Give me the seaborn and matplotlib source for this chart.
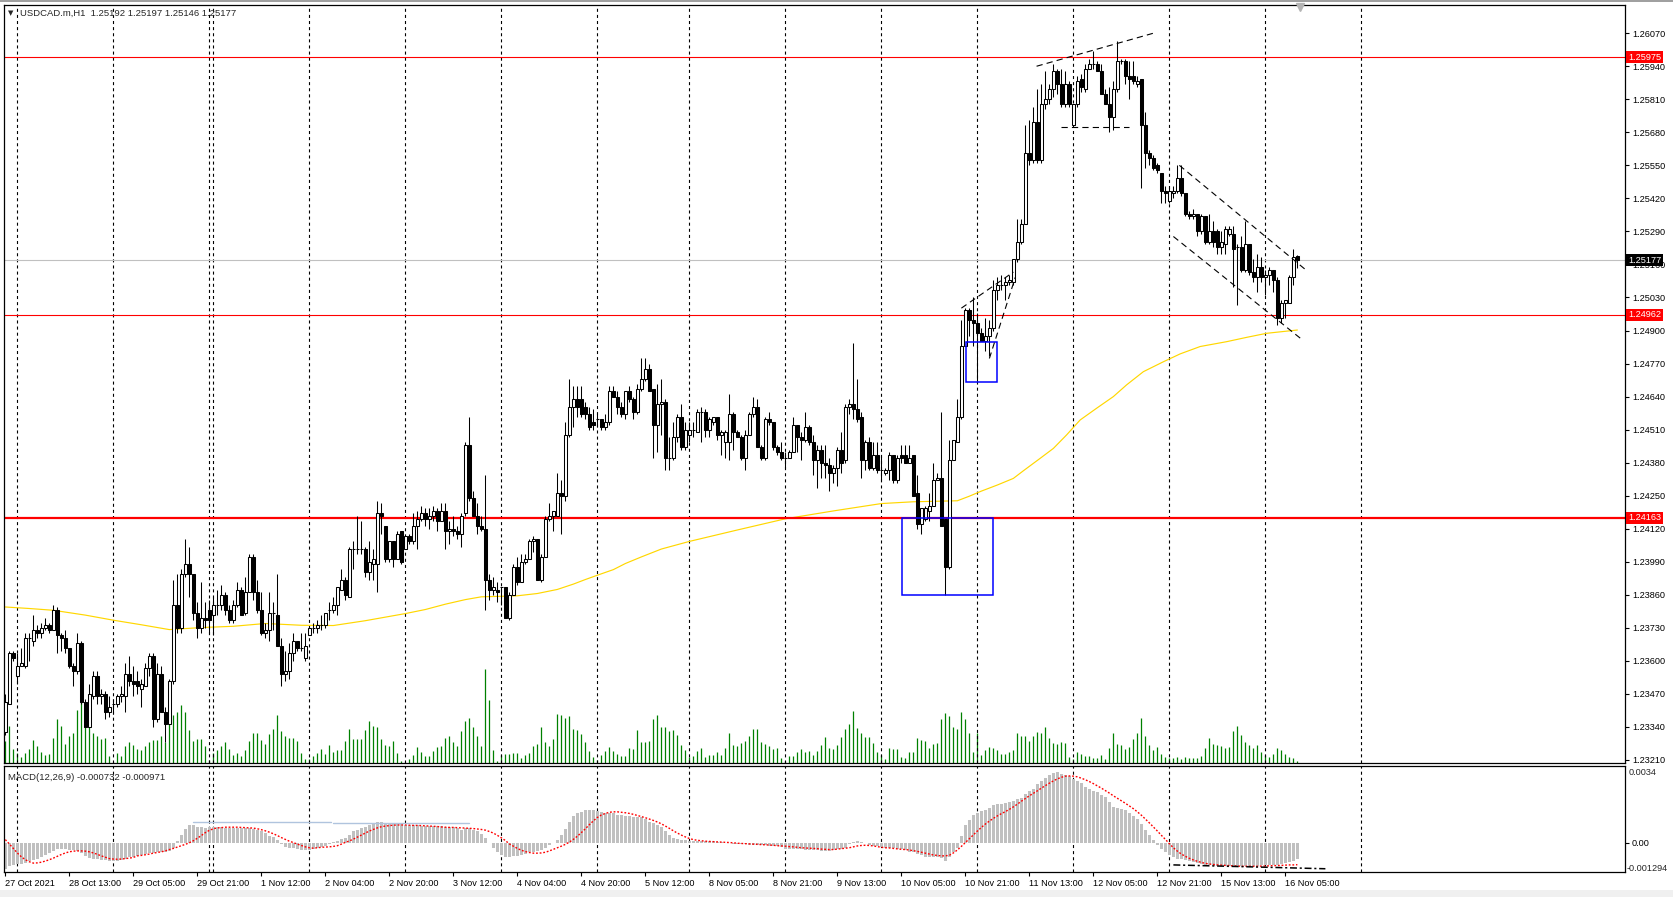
import numpy as np
import matplotlib
matplotlib.use("Agg")
import matplotlib.pyplot as plt
import matplotlib.transforms as mtransforms
from matplotlib.patches import Rectangle
import seaborn as sns

# ---------------- data ----------------
open_ = [
1.2332,1.2343,1.2363,1.2354,1.2358,1.2358,1.2369,1.2368,1.2372,1.2371,
1.2373,1.2374,1.2372,1.2380,1.2370,1.2369,1.2365,1.2358,1.2356,1.2367,
1.2344,1.2334,1.2346,1.2354,1.2346,1.2347,1.2340,1.2343,1.2343,1.2346,
1.2346,1.2355,1.2352,1.2352,1.2349,1.2350,1.2357,1.2362,1.2337,1.2355,
1.2340,1.2335,1.2352,1.2382,1.2373,1.2394,1.2398,1.2394,1.2379,1.2373,
1.2377,1.2380,1.2378,1.2382,1.2382,1.2386,1.2380,1.2376,1.2382,1.2388,
1.2379,1.2387,1.2401,1.2387,1.2380,1.2371,1.2372,1.2379,1.2378,1.2366,
1.2355,1.2356,1.2363,1.2368,1.2365,1.2361,1.2370,1.2373,1.2373,1.2374,
1.2374,1.2380,1.2380,1.2382,1.2388,1.2392,1.2385,1.2404,1.2404,1.2404,
1.2404,1.2395,1.2398,1.2398,1.2418,1.2413,1.2400,1.2407,1.2400,1.2411,
1.2404,1.2409,1.2407,1.2413,1.2416,1.2418,1.2416,1.2417,1.2419,1.2415,
1.2419,1.2411,1.2412,1.2411,1.2410,1.2418,1.2445,1.2424,1.2417,1.2413,
1.2412,1.2392,1.2388,1.2388,1.2389,1.2389,1.2377,1.2386,1.2397,1.2391,
1.2399,1.2400,1.2407,1.2408,1.2392,1.2401,1.2416,1.2417,1.2417,1.2426,
1.2425,1.2449,1.2460,1.2463,1.2463,1.2460,1.2457,1.2454,1.2455,1.2455,
1.2452,1.2454,1.2466,1.2464,1.2460,1.2457,1.2466,1.2463,1.2458,1.2467,
1.2471,1.2475,1.2467,1.2453,1.2461,1.2462,1.2440,1.2440,1.2448,1.2456,
1.2444,1.2449,1.2451,1.2450,1.2458,1.2458,1.2451,1.2454,1.2456,1.2449,
1.2446,1.2446,1.2457,1.2450,1.2448,1.2440,1.2449,1.2457,1.2460,1.2444,
1.2440,1.2455,1.2454,1.2444,1.2442,1.2440,1.2440,1.2442,1.2453,1.2448,
1.2447,1.2452,1.2446,1.2439,1.2443,1.2438,1.2437,1.2434,1.2436,1.2443,
1.2439,1.2460,1.2461,1.2459,1.2456,1.2439,1.2446,1.2436,1.2441,1.2435,
1.2434,1.2435,1.2441,1.2431,1.2441,1.2441,1.2438,1.2441,1.2426,1.2414,
1.2416,1.2419,1.2421,1.2431,1.2432,1.2416,1.2397,1.2439,1.2446,1.2456,
1.2484,1.2498,1.2494,1.2493,1.2489,1.2486,1.2488,1.2491,1.2506,1.2508,
1.2508,1.2509,1.2509,1.2518,1.2525,1.2532,1.2560,1.2557,1.2572,1.2557,
1.2579,1.2581,1.2585,1.2592,1.2587,1.2579,1.2587,1.2571,1.2579,1.2589,
1.2585,1.2593,1.2595,1.2595,1.2592,1.2583,1.2579,1.2574,1.2585,1.2596,
1.2596,1.2590,1.2590,1.2587,1.2589,1.2571,1.2560,1.2558,1.2555,1.2552,
1.2545,1.2541,1.2544,1.2545,1.2550,1.2544,1.2536,1.2535,1.2536,1.2529,
1.2535,1.2525,1.2529,1.2529,1.2523,1.2524,1.2528,1.2528,1.2523,1.2523,
1.2514,1.2524,1.2513,1.2511,1.2515,1.2511,1.2512,1.2514,1.2510,1.2495,
1.2501,1.2501,1.2511,1.25192]

high = [
1.2347,1.2364,1.2364,1.2363,1.2365,1.2371,1.2371,1.2378,1.2374,1.2375,
1.2377,1.2375,1.2382,1.2381,1.2371,1.2372,1.2365,1.2359,1.2371,1.2368,
1.2345,1.2351,1.2356,1.2356,1.2349,1.2348,1.2346,1.2345,1.2347,1.2350,
1.2359,1.2362,1.2358,1.2356,1.2353,1.2359,1.2363,1.2363,1.2359,1.2358,
1.2342,1.2353,1.2392,1.2394,1.2396,1.2408,1.2405,1.2394,1.2383,1.2391,
1.2383,1.2384,1.2385,1.2388,1.2390,1.2387,1.2382,1.2384,1.2391,1.2389,
1.2393,1.2402,1.2402,1.2392,1.2387,1.2375,1.2387,1.2383,1.2394,1.2369,
1.2364,1.2367,1.2371,1.2368,1.2371,1.2371,1.2373,1.2375,1.2376,1.2378,
1.2379,1.2383,1.2385,1.2389,1.2396,1.2393,1.2405,1.2407,1.2417,1.2415,
1.2405,1.2407,1.2404,1.2423,1.2422,1.2413,1.2407,1.2407,1.2411,1.2411,
1.2409,1.2410,1.2418,1.2419,1.2421,1.2420,1.2420,1.2421,1.2420,1.2422,
1.2422,1.2415,1.2417,1.2413,1.2418,1.2446,1.2456,1.2427,1.2422,1.2417,
1.2433,1.2394,1.2393,1.2391,1.2389,1.2389,1.2387,1.2398,1.2401,1.2402,
1.2402,1.2408,1.2409,1.2408,1.2402,1.2417,1.2422,1.2419,1.2434,1.2431,
1.2454,1.2471,1.2468,1.2468,1.2468,1.2462,1.2460,1.2459,1.2457,1.2455,
1.2457,1.2468,1.2468,1.2466,1.2462,1.2466,1.2468,1.2464,1.2469,1.2479,
1.2479,1.2477,1.2467,1.2469,1.2471,1.2463,1.2448,1.2454,1.2457,1.2461,
1.2454,1.2454,1.2454,1.2459,1.2460,1.2459,1.2456,1.2456,1.2456,1.2451,
1.2451,1.2465,1.2458,1.2451,1.2449,1.2451,1.2458,1.2464,1.2463,1.2445,
1.2456,1.2458,1.2454,1.2445,1.2446,1.2442,1.2443,1.2456,1.2453,1.2450,
1.2458,1.2453,1.2449,1.2445,1.2445,1.2445,1.2440,1.2437,1.2444,1.2450,
1.2461,1.2463,1.2485,1.2471,1.2458,1.2447,1.2448,1.2446,1.2446,1.2441,
1.2436,1.2442,1.2441,1.2441,1.2445,1.2445,1.2445,1.2441,1.2433,1.2420,
1.2421,1.2426,1.2438,1.2434,1.2458,1.2416,1.2447,1.2447,1.2463,1.2494,
1.2499,1.2499,1.2503,1.2497,1.2491,1.2495,1.2494,1.2510,1.2511,1.2512,
1.2511,1.2512,1.2518,1.2534,1.2534,1.2571,1.2573,1.2578,1.2585,1.2587,
1.2592,1.2587,1.2595,1.2593,1.2593,1.2592,1.2588,1.2579,1.2590,1.2591,
1.2595,1.2597,1.2600,1.2596,1.2595,1.2585,1.2586,1.2588,1.2604,1.2597,
1.2597,1.2596,1.2596,1.2590,1.2589,1.2576,1.2561,1.2559,1.2556,1.2552,
1.2547,1.2546,1.2547,1.2555,1.2555,1.2544,1.2537,1.2538,1.2536,1.2536,
1.2535,1.2536,1.2533,1.2530,1.2529,1.2531,1.2531,1.2531,1.2524,1.2527,
1.2533,1.2524,1.2518,1.2520,1.2519,1.2514,1.2515,1.2514,1.2511,1.2502,
1.2502,1.2512,1.2522,1.25197]

low = [
1.2331,1.2343,1.2360,1.2351,1.2358,1.2357,1.2360,1.2366,1.2369,1.2369,
1.2372,1.2371,1.2372,1.2363,1.2364,1.2363,1.2357,1.2350,1.2355,1.2343,
1.2334,1.2334,1.2345,1.2343,1.2343,1.2337,1.2338,1.2339,1.2342,1.2344,
1.2340,1.2350,1.2346,1.2347,1.2342,1.2350,1.2354,1.2334,1.2336,1.2340,
1.2328,1.2335,1.2351,1.2371,1.2371,1.2393,1.2385,1.2376,1.2369,1.2371,
1.2373,1.2371,1.2370,1.2378,1.2380,1.2378,1.2375,1.2375,1.2381,1.2378,
1.2378,1.2387,1.2384,1.2379,1.2370,1.2369,1.2368,1.2372,1.2366,1.2350,
1.2352,1.2353,1.2360,1.2364,1.2364,1.2360,1.2370,1.2371,1.2371,1.2372,
1.2373,1.2376,1.2379,1.2378,1.2388,1.2384,1.2385,1.2396,1.2402,1.2402,
1.2393,1.2392,1.2392,1.2387,1.2410,1.2399,1.2399,1.2397,1.2400,1.2398,
1.2404,1.2406,1.2406,1.2404,1.2415,1.2413,1.2412,1.2415,1.2411,1.2415,
1.2404,1.2406,1.2409,1.2408,1.2405,1.2417,1.2423,1.2417,1.2410,1.2411,
1.2380,1.2384,1.2386,1.2383,1.2382,1.2377,1.2376,1.2386,1.2390,1.2391,
1.2398,1.2400,1.2403,1.2392,1.2391,1.2401,1.2415,1.2411,1.2417,1.2410,
1.2423,1.2448,1.2452,1.2456,1.2456,1.2455,1.2451,1.2451,1.2452,1.2451,
1.2451,1.2453,1.2464,1.2457,1.2456,1.2455,1.2462,1.2455,1.2457,1.2466,
1.2470,1.2466,1.2440,1.2442,1.2449,1.2435,1.2435,1.2439,1.2446,1.2443,
1.2443,1.2446,1.2448,1.2450,1.2446,1.2448,1.2448,1.2453,1.2447,1.2441,
1.2440,1.2439,1.2443,1.2448,1.2439,1.2435,1.2449,1.2456,1.2444,1.2439,
1.2439,1.2453,1.2443,1.2441,1.2439,1.2436,1.2440,1.2442,1.2442,1.2439,
1.2446,1.2445,1.2433,1.2428,1.2432,1.2432,1.2427,1.2430,1.2429,1.2434,
1.2438,1.2457,1.2455,1.2454,1.2432,1.2435,1.2435,1.2435,1.2434,1.2431,
1.2433,1.2431,1.2430,1.2430,1.2438,1.2438,1.2438,1.2425,1.2412,1.2410,
1.2415,1.2415,1.2421,1.2431,1.2413,1.2386,1.2396,1.2439,1.2446,1.2455,
1.2484,1.2488,1.2484,1.2470,1.2486,1.2482,1.2480,1.2490,1.2502,1.2506,
1.2502,1.2508,1.2508,1.2517,1.2524,1.2532,1.2555,1.2556,1.2556,1.2556,
1.2577,1.2579,1.2582,1.2583,1.2578,1.2578,1.2578,1.2570,1.2578,1.2584,
1.2584,1.2593,1.2593,1.2592,1.2583,1.2579,1.2568,1.2569,1.2584,1.2595,
1.2587,1.2581,1.2587,1.2586,1.2546,1.2554,1.2555,1.2553,1.2552,1.2540,
1.2540,1.2540,1.2542,1.2544,1.2543,1.2535,1.2534,1.2534,1.2527,1.2528,
1.2524,1.2524,1.2523,1.2520,1.2520,1.2520,1.2527,1.2507,1.2500,1.2513,
1.2513,1.2512,1.2509,1.2505,1.2509,1.2504,1.2508,1.2505,1.2492,1.2493,
1.2495,1.2501,1.2508,1.25146]

close = [
1.2344,1.2363,1.2361,1.2358,1.2359,1.2369,1.2369,1.2372,1.2371,1.2373,
1.2374,1.2372,1.2380,1.2370,1.2369,1.2365,1.2358,1.2356,1.2367,1.2344,
1.2334,1.2347,1.2354,1.2346,1.2347,1.2340,1.2342,1.2343,1.2346,1.2347,
1.2355,1.2352,1.2351,1.2350,1.2351,1.2357,1.2362,1.2337,1.2355,1.2340,
1.2335,1.2352,1.2382,1.2373,1.2394,1.2398,1.2394,1.2379,1.2373,1.2377,
1.2376,1.2376,1.2382,1.2382,1.2386,1.2380,1.2376,1.2382,1.2388,1.2378,
1.2387,1.2401,1.2387,1.2380,1.2371,1.2372,1.2379,1.2379,1.2366,1.2355,
1.2356,1.2363,1.2368,1.2365,1.2365,1.2366,1.2373,1.2373,1.2374,1.2374,
1.2379,1.2380,1.2382,1.2389,1.2392,1.2386,1.2404,1.2404,1.2404,1.2404,
1.2395,1.2399,1.2400,1.2418,1.2417,1.2400,1.2407,1.2400,1.2410,1.2399,
1.2409,1.2407,1.2413,1.2416,1.2418,1.2416,1.2417,1.2419,1.2415,1.2419,
1.2411,1.2412,1.2411,1.2410,1.2417,1.2445,1.2424,1.2417,1.2413,1.2412,
1.2392,1.2388,1.2389,1.2387,1.2389,1.2377,1.2386,1.2397,1.2391,1.2399,
1.2400,1.2407,1.2408,1.2392,1.2401,1.2416,1.2417,1.2419,1.2426,1.2425,
1.2449,1.2460,1.2463,1.2460,1.2457,1.2457,1.2452,1.2453,1.2455,1.2452,
1.2454,1.2466,1.2464,1.2460,1.2457,1.2466,1.2463,1.2458,1.2467,1.2471,
1.2475,1.2466,1.2453,1.2461,1.2462,1.2440,1.2440,1.2448,1.2456,1.2444,
1.2451,1.2451,1.2451,1.2458,1.2458,1.2451,1.2455,1.2456,1.2449,1.2450,
1.2450,1.2457,1.2450,1.2448,1.2440,1.2449,1.2457,1.2460,1.2444,1.2440,
1.2455,1.2454,1.2444,1.2442,1.2440,1.2440,1.2442,1.2453,1.2448,1.2447,
1.2452,1.2446,1.2439,1.2443,1.2438,1.2437,1.2434,1.2436,1.2443,1.2438,
1.2460,1.2461,1.2459,1.2455,1.2439,1.2446,1.2436,1.2441,1.2435,1.2435,
1.2435,1.2441,1.2431,1.2440,1.2440,1.2438,1.2440,1.2425,1.2414,1.2420,
1.2420,1.2421,1.2431,1.2432,1.2413,1.2397,1.2439,1.2447,1.2456,1.2484,
1.2498,1.2494,1.2493,1.2489,1.2486,1.2488,1.2491,1.2506,1.2508,1.2508,
1.2509,1.2510,1.2518,1.2525,1.2532,1.2560,1.2557,1.2572,1.2557,1.2579,
1.2581,1.2585,1.2592,1.2587,1.2579,1.2587,1.2579,1.2579,1.2588,1.2586,
1.2593,1.2595,1.2595,1.2592,1.2583,1.2579,1.2574,1.2585,1.2596,1.2596,
1.2590,1.2589,1.2588,1.2588,1.2571,1.2560,1.2558,1.2554,1.2553,1.2545,
1.2544,1.2545,1.2545,1.2550,1.2544,1.2536,1.2535,1.2536,1.2529,1.2535,
1.2525,1.2529,1.2525,1.2523,1.2525,1.2530,1.2530,1.2522,1.2523,1.2514,
1.2524,1.2513,1.2511,1.2515,1.2511,1.2512,1.2514,1.2510,1.2495,1.2501,
1.2502,1.2511,1.2519,1.25177]

volume = [
22,37,14,10,6,10,14,23,17,11,
8,9,25,44,37,19,27,30,53,61,
52,43,30,27,24,25,7,1,10,7,
17,21,18,14,13,17,21,23,23,27,
21,40,48,51,58,51,33,22,24,24,
17,3,10,13,17,21,14,8,10,7,
13,22,30,30,23,19,29,34,48,32,
27,25,25,22,10,4,4,7,10,14,
9,18,11,13,13,22,34,24,24,24,
33,42,37,36,24,18,17,22,10,2,
1,4,8,16,11,7,7,12,16,17,
25,27,21,17,32,42,45,36,27,17,
94,63,13,2,8,9,9,10,10,5,
8,10,17,19,36,21,17,24,49,48,
45,47,34,33,29,21,12,6,3,8,
12,16,12,9,7,7,15,14,33,21,
21,22,44,48,36,36,32,33,28,18,
13,6,7,12,15,6,8,8,11,8,
15,30,18,17,20,22,27,34,34,21,
19,17,14,15,5,2,7,7,11,14,
11,12,8,12,18,26,15,14,18,26,
34,39,52,35,30,26,26,20,11,8,
4,15,14,14,6,5,11,11,25,23,
22,15,19,20,44,50,47,36,34,51,
44,30,11,30,8,13,16,15,13,9,
9,11,13,30,27,27,22,27,31,30,
36,25,20,19,21,20,6,4,11,9,
7,7,5,5,8,4,15,30,19,18,
14,16,24,30,45,27,18,13,16,9,
6,5,5,6,4,6,5,5,5,7,
15,25,19,18,17,15,16,32,37,28,
21,18,15,18,11,8,6,9,15,13,
9,6,5,2]

# MACD main (histogram) and signal, in units of 0.0001
macd_hist_e4 = [
-11.6,-10.1,-9.8,-9.5,-9.2,-8.8,-8.2,-7.6,-7.2,-6.5,
-5.6,-4.6,-3.6,-2.9,-2.7,-2.7,-3.0,-3.4,-3.6,-4.6,
-5.8,-6.9,-7.1,-7.3,-7.5,-7.8,-8.0,-8.2,-7.9,-7.5,
-7.0,-6.5,-6.2,-5.8,-5.5,-5.0,-4.6,-4.6,-4.3,-4.2,
-4.3,-3.6,-2.2,0.7,3.6,6.2,7.9,7.9,7.2,6.9,
6.6,6.8,6.8,6.8,6.8,6.6,6.5,6.5,6.6,6.5,
6.4,6.5,6.3,5.6,5.0,4.2,3.2,2.4,1.4,-0.6,
-1.7,-2.2,-2.5,-2.9,-3.0,-3.2,-3.0,-2.6,-2.2,-1.7,
-1.3,-0.7,0.2,1.0,1.6,2.2,3.6,5.0,5.8,6.5,
7.0,7.9,8.5,9.1,9.0,8.8,8.7,8.5,8.4,8.1,
7.9,7.8,7.8,7.7,7.5,7.5,7.5,7.5,7.5,7.3,
7.2,7.0,6.9,6.5,5.8,6.5,6.5,5.6,5.0,3.8,
2.2,0.0,-2.2,-4.3,-5.5,-6.1,-6.1,-5.8,-5.8,-5.5,
-5.0,-4.3,-3.9,-3.6,-3.2,-2.2,-1.2,0.0,1.2,3.6,
6.2,9.4,11.8,13.0,13.7,14.4,14.4,14.4,14.0,13.5,
13.3,13.3,13.0,12.5,12.3,12.0,11.8,11.5,11.3,11.3,
10.5,9.4,8.7,7.9,7.0,5.0,3.5,2.2,1.8,1.4,
1.2,1.0,1.0,0.9,0.8,0.7,0.6,0.6,0.4,0.4,
0.1,-0.3,-0.7,-0.7,-0.7,-0.7,-0.8,-0.8,-1.0,-1.2,
-1.2,-1.3,-1.4,-1.5,-2.0,-2.6,-2.6,-2.8,-2.9,-2.9,
-3.0,-3.1,-3.2,-3.4,-3.6,-3.6,-3.5,-3.2,-2.9,-2.9,
-2.2,-0.7,0.5,0.7,0.3,-0.3,-1.1,-1.4,-1.6,-2.0,
-2.2,-2.3,-2.5,-2.8,-2.9,-3.2,-3.9,-4.3,-4.9,-5.6,
-6.1,-6.3,-6.4,-6.5,-6.8,-7.9,-6.5,-4.3,-2.2,2.9,
8.0,10.1,12.5,13.4,14.0,14.4,15.2,16.6,17.0,17.3,
17.6,17.9,18.5,19.2,19.9,21.5,22.8,24.0,26.0,27.5,
28.9,30.0,30.8,31.2,30.5,30.0,29.5,28.3,27.4,26.5,
24.8,24.0,23.1,22.5,21.2,20.2,18.0,15.8,15.5,15.1,
14.7,13.3,12.0,10.5,8.2,5.8,3.5,1.4,-0.8,-2.9,
-4.0,-5.4,-6.2,-7.0,-7.3,-7.8,-8.2,-8.7,-9.0,-9.4,
-9.7,-9.9,-10.1,-10.3,-10.4,-10.4,-10.4,-10.4,-10.4,-10.4,
-10.3,-10.1,-10.1,-10.1,-10.0,-9.9,-9.8,-9.8,-9.9,-9.6,
-9.0,-8.5,-7.9,-7.32]

macd_signal_e4 = [
1.4,-0.5,-2.5,-4.5,-6.2,-7.5,-8.4,-9.0,-8.9,-8.6,
-8.1,-7.5,-6.8,-6.0,-5.2,-4.5,-4.0,-3.7,-3.6,-3.6,
-3.7,-4.0,-4.5,-5.1,-5.8,-6.4,-7.0,-7.2,-7.3,-7.2,
-7.0,-6.8,-6.5,-5.8,-5.6,-5.3,-5.0,-4.6,-4.3,-4.0,
-3.6,-3.0,-2.5,-1.9,-1.3,-0.7,0.0,0.9,2.0,3.2,
4.5,5.5,6.2,6.6,6.7,6.9,6.9,6.9,6.9,6.8,
6.7,6.6,6.5,6.2,5.8,5.3,4.7,4.0,3.2,2.3,
1.5,0.7,0.1,-0.6,-1.2,-1.8,-2.2,-2.4,-2.2,-2.0,
-1.9,-1.8,-1.6,-1.3,-0.6,0.2,0.8,1.6,2.5,3.4,
4.3,5.2,5.9,6.6,7.1,7.4,7.6,7.8,7.9,7.9,
7.9,7.8,7.7,7.7,7.6,7.5,7.4,7.3,7.2,7.0,
6.9,6.8,6.8,6.7,6.6,6.5,6.4,6.3,6.1,5.9,
5.6,5.0,4.3,3.3,2.2,1.0,-0.5,-1.5,-2.5,-3.3,
-3.9,-4.3,-4.6,-4.6,-4.5,-4.2,-3.6,-2.9,-2.2,-1.5,
-0.7,0.3,1.5,2.9,4.5,6.2,8.0,9.7,11.2,12.3,
13.0,13.5,13.7,13.7,13.5,13.3,13.0,12.6,12.1,11.6,
11.1,10.5,9.9,9.2,8.4,7.4,6.4,5.3,4.3,3.4,
2.6,1.9,1.4,1.1,0.9,0.7,0.6,0.5,0.4,0.3,
0.2,0.1,0.0,-0.2,-0.3,-0.4,-0.5,-0.6,-0.7,-0.8,
-0.9,-1.0,-1.1,-1.3,-1.4,-1.5,-1.7,-1.8,-2.0,-2.2,
-2.3,-2.4,-2.5,-2.6,-2.8,-2.9,-3.0,-3.0,-2.8,-2.6,
-2.4,-2.2,-1.8,-1.4,-1.2,-1.1,-1.2,-1.4,-1.7,-2.0,
-2.2,-2.3,-2.5,-2.7,-2.9,-3.0,-3.2,-3.5,-3.8,-4.2,
-4.6,-5.0,-5.4,-5.6,-5.8,-5.8,-5.5,-4.5,-3.2,-1.6,
0.1,1.8,3.5,5.2,6.8,8.3,9.6,10.8,11.9,12.9,
13.8,14.8,15.9,17.1,18.4,19.6,20.8,21.9,23.0,24.2,
25.3,26.4,27.4,28.3,29.0,29.5,29.6,29.5,29.2,28.6,
27.9,27.1,26.2,25.2,24.2,23.1,22.0,20.8,19.7,18.6,
17.5,16.3,15.1,13.7,12.2,10.5,8.8,7.0,5.2,3.3,
1.5,-0.4,-2.2,-3.7,-5.0,-6.0,-6.9,-7.6,-8.2,-8.7,
-9.1,-9.4,-9.6,-9.8,-9.9,-10.0,-10.1,-10.2,-10.3,-10.4,
-10.4,-10.4,-10.4,-10.4,-10.3,-10.3,-10.2,-10.1,-10.1,-10.0,
-9.9,-9.8,-9.8,-9.71]

# moving average (yellow) read at these bars
ma_bar = [0,6,12,20,27,34,41,49,57,65,74,82,90,100,105,110,115,119,124,128,
          133,138,142,145,148,152,155,159,164,171,183,195,207,219,227,238,241,
          244,248,252,254.5,258.7,262,265.3,268.7,272.8,277,280.3,284.5,289.5,
          293.7,298.7,305.3,310.3,315.3,323]
ma_val = [1.23812,1.23806,1.23799,1.23780,1.23760,1.23742,1.23723,1.23731,1.23736,
          1.23747,1.23740,1.23739,1.23758,1.23786,1.23802,1.23823,1.23841,1.23852,
          1.23854,1.23856,1.23865,1.23881,1.23902,1.23920,1.23937,1.23959,1.23983,
          1.24009,1.24040,1.24070,1.24115,1.24159,1.24190,1.24219,1.24226,1.24230,
          1.24248,1.24268,1.24292,1.24318,1.24348,1.24397,1.24436,1.24489,1.24548,
          1.24594,1.24640,1.24686,1.24738,1.24777,1.24808,1.24837,1.24856,1.24873,
          1.24889,1.24902]

levels_red = [1.25975, 1.24962, 1.24163]
bid_price = 1.25177
price_ticks = [1.26070,1.25940,1.25810,1.25680,1.25550,1.25420,1.25290,1.25160,
               1.25030,1.24900,1.24770,1.24640,1.24510,1.24380,1.24250,1.24120,
               1.23990,1.23860,1.23730,1.23600,1.23470,1.23340,1.23210]
time_labels = ["27 Oct 2021","28 Oct 13:00","29 Oct 05:00","29 Oct 21:00","1 Nov 12:00",
               "2 Nov 04:00","2 Nov 20:00","3 Nov 12:00","4 Nov 04:00","4 Nov 20:00",
               "5 Nov 12:00","8 Nov 05:00","8 Nov 21:00","9 Nov 13:00","10 Nov 05:00",
               "10 Nov 21:00","11 Nov 13:00","12 Nov 05:00","12 Nov 21:00","15 Nov 13:00",
               "16 Nov 05:00"]
time_label_bars = [0,16,32,48,64,80,96,112,128,144,160,176,192,208,224,240,256,272,288,304,320]
day_sep_bars = [3,27,51,52,76,100,124,148,171,195,219,243,267,291,315,339]

# drawn objects: (bar0, price0, bar1, price1)
boxes = [(224.1, 1.23858, 247.0, 1.24163), (240.1, 1.24696, 248.0, 1.24854)]
trendlines = [(239.0, 1.24988, 252.0, 1.25130), (246.0, 1.24790, 252.5, 1.25110),
              (257.8, 1.25940, 287.0, 1.26070), (263.9, 1.25700, 281.0, 1.25700),
              (293.5, 1.25550, 325.0, 1.25140), (292.0, 1.25270, 324.5, 1.24860)]
macd_lines_blue = [(47, 9.1, 81.5, 9.1), (82, 8.7, 116, 8.7)]
macd_trend = (292, -9.8, 330, -11.5)

n = len(close)
assert len(open_) == n and len(high) == n and len(low) == n and len(volume) == n
assert len(macd_hist_e4) == n and len(macd_signal_e4) == n

# ---------------- style ----------------
sns.set_theme(style="white")
plt.rcParams['font.family'] = ['Liberation Sans', 'DejaVu Sans']
plt.rcParams['lines.scale_dashes'] = False
plt.rcParams['axes.linewidth'] = 0.8

W, H = 1673, 897
fig = plt.figure(figsize=(W / 100, H / 100), dpi=100)
fig.patch.set_facecolor('white')

def box(x0, y0, x1, y1):
    return [x0 / W, 1 - y1 / H, (x1 - x0) / W, (y1 - y0) / H]

ax = fig.add_axes(box(4, 5, 1625, 763))
axm = fig.add_axes(box(4, 766, 1625, 872))
axv = ax.twinx()

idx = np.arange(n)
o = np.array(open_); c = np.array(close); h = np.array(high); l = np.array(low)
up = c >= o
lo_b = np.minimum(o, c)
hb = np.abs(c - o)

XMIN, XMAX = -0.33, 404.9
PMIN, PMAX = 1.23198, 1.26181

# volume (behind)
axv.vlines(idx, 0, volume, color='#008000', lw=0.9)
axv.set_ylim(0, 758)
axv.axis('off')
axv.set_zorder(0)
ax.set_zorder(1)
ax.patch.set_visible(False)

# day separators
for d in day_sep_bars:
    ax.axvline(d, color='black', lw=0.8, ls=(0, (2.2, 2.2)), zorder=1)
    axm.axvline(d, color='black', lw=0.8, ls=(0, (2.2, 2.2)), zorder=1)

# moving average
sns.lineplot(x=ma_bar, y=ma_val, ax=ax, color='#FFD700', lw=0.85, zorder=2)

# horizontal levels
ax.axhline(bid_price, color='#C0C0C0', lw=0.8, zorder=1.5)
for p, w in zip(levels_red, [0.8, 0.8, 1.6]):
    ax.axhline(p, color='#FF0000', lw=w, zorder=2.2)

# candles
ax.vlines(idx, np.minimum(l, lo_b), np.maximum(h, np.maximum(o, c)), color='black', lw=0.75, zorder=3)
ax.bar(idx[up], hb[up], bottom=lo_b[up], width=0.72, color='white', edgecolor='black', lw=0.75, zorder=4)
ax.bar(idx[~up], hb[~up], bottom=lo_b[~up], width=0.72, color='black', edgecolor='black', lw=0.75, zorder=4)

# rectangles and trend lines
for b0, p0, b1, p1 in boxes:
    ax.add_patch(Rectangle((b0, p0), b1 - b0, p1 - p0, fill=False, ec='#0000FF', lw=1.1, zorder=5))
for b0, p0, b1, p1 in trendlines:
    ax.plot([b0, b1], [p0, p1], color='black', lw=0.8, ls=(0, (4.5, 3)), zorder=5)

ax.set_xlim(XMIN, XMAX)
ax.set_ylim(PMIN, PMAX)
ax.yaxis.tick_right()
ax.set_yticks(price_ticks)
ax.set_yticklabels([f"{t:.5f}" for t in price_ticks])
ax.tick_params(axis='y', which='both', direction='out', length=3, width=0.8, labelsize=6.6,
               pad=2, colors='black', right=True, left=False)
ax.tick_params(axis='x', bottom=False, labelbottom=False)
ax.set_xlabel(''); ax.set_ylabel('')
for s in ax.spines.values():
    s.set_color('black'); s.set_linewidth(0.9)

trans = mtransforms.blended_transform_factory(ax.transAxes, ax.transData)
for p in levels_red:
    ax.text(1.0018, p, f"{p:.5f}", transform=trans, ha='left', va='center', fontsize=6.6,
            color='white', zorder=10, clip_on=False,
            bbox=dict(boxstyle='square,pad=0.18', fc='#FF0000', ec='none'))
ax.text(1.0018, bid_price, f"{bid_price:.5f}", transform=trans, ha='left', va='center', fontsize=6.6,
        color='white', zorder=10, clip_on=False,
        bbox=dict(boxstyle='square,pad=0.18', fc='black', ec='none'))
ax.plot([323.7], [1.26173], marker='v', color='#B4B4B4', ms=6, clip_on=False, zorder=10)

# ---------------- MACD panel ----------------
hist = np.array(macd_hist_e4) * 1e-4
sig = np.array(macd_signal_e4) * 1e-4
sns.barplot(x=idx, y=hist, ax=axm, native_scale=True, color='#C0C0C0', width=0.75,
            errorbar=None, saturation=1, linewidth=0, zorder=2)
sns.lineplot(x=idx, y=sig, ax=axm, color='#FF0000', lw=1.0, ls=(0, (1.3, 1.3)), zorder=3)
for b0, v0, b1, v1 in macd_lines_blue:
    axm.plot([b0, b1], [v0 * 1e-4, v1 * 1e-4], color='#B0C4DE', lw=1.0, zorder=3)
mb0, mv0, mb1, mv1 = macd_trend
axm.plot([mb0, mb1], [mv0 * 1e-4, mv1 * 1e-4], color='black', lw=1.1, ls=(0, (5, 2, 1.5, 2)), zorder=3)

axm.set_xlim(XMIN, XMAX)
axm.set_ylim(-0.001294, 0.0034)
axm.yaxis.tick_right()
axm.set_yticks([0.0])
axm.set_yticklabels(['0.00'])
axm.tick_params(axis='y', direction='out', length=3, width=0.8, labelsize=6.6, pad=2,
                colors='black', right=True, left=False)
axm.set_xticks(time_label_bars)
axm.set_xticklabels(time_labels)
for lab in axm.get_xticklabels():
    lab.set_ha('left')
axm.tick_params(axis='x', direction='out', length=3, width=0.8, labelsize=6.6, pad=2,
                colors='black', bottom=True)
axm.set_xlabel(''); axm.set_ylabel('')
for s in axm.spines.values():
    s.set_color('black'); s.set_linewidth(0.9)

fig.text(1629 / W, 1 - 768 / H, '0.0034', fontsize=6.6, ha='left', va='top')
fig.text(1627 / W, 1 - 868 / H, '-0.001294', fontsize=6.6, ha='left', va='center')

# headers
fig.text(8 / W, 1 - 13 / H, '\u25BC', fontsize=5, ha='left', va='center', family=['DejaVu Sans'])
fig.text(20 / W, 1 - 13 / H, 'USDCAD.m,H1  1.25192 1.25197 1.25146 1.25177', fontsize=6.8,
         ha='left', va='center')
fig.text(8 / W, 1 - 777 / H, 'MACD(12,26,9) -0.000732 -0.000971', fontsize=6.8, ha='left', va='center')

# window frame
fig.patches.append(Rectangle((0, 1 - 2 / H), 1, 2 / H, transform=fig.transFigure,
                             fc='#A0A0A0', ec='none', zorder=0))
fig.patches.append(Rectangle((0, 0), 1, 7 / H, transform=fig.transFigure,
                             fc='#F0F0F0', ec='none', zorder=0))

fig.savefig('out.png', dpi=100, facecolor='white')
